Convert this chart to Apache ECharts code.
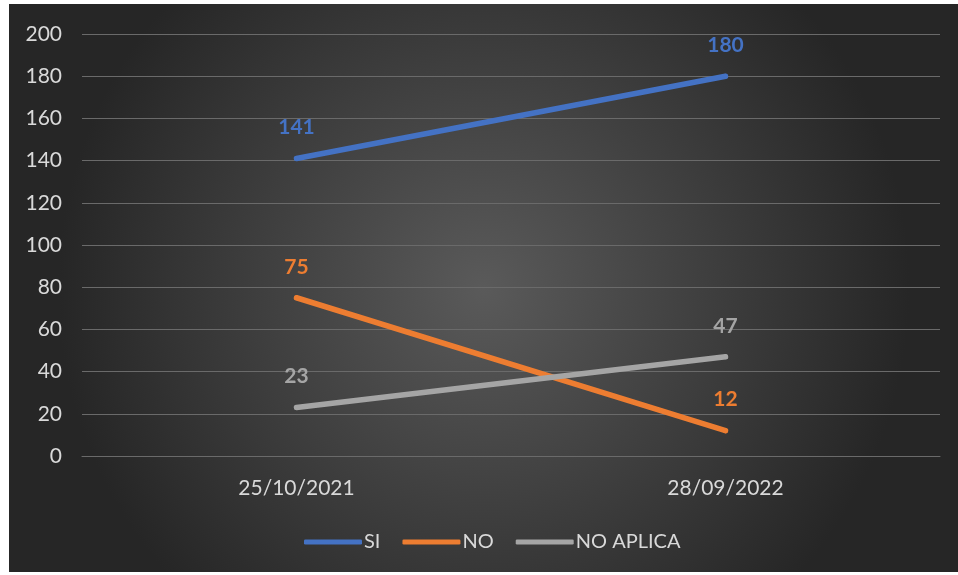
<!DOCTYPE html>
<html><head><meta charset="utf-8">
<script src="https://cdn.jsdelivr.net/npm/echarts@6/dist/echarts.min.js"></script>
<style>html,body{margin:0;padding:0;background:#fff;}#c{position:absolute;left:9px;top:4px;width:949px;height:568px;}</style>
</head><body><div id="c"></div>
<script>
const categories = ['25/10/2021', '28/09/2022'];
const siValues = [141, 180];
const noValues = [75, 12];
const noAplicaValues = [23, 47];
const yTicks = [0, 20, 40, 60, 80, 100, 120, 140, 160, 180, 200];

const chart = echarts.init(document.getElementById('c'));
const font = 'Lato, "Open Sans", sans-serif';
function mk(name, data, color) {
  return {
    name, type: 'line', data, symbol: 'circle', symbolSize: 5, showSymbol: true,
    lineStyle: { color, width: 5.5, cap: 'round' },
    itemStyle: { color },
    label: { show: true, position: 'top', distance: 18, color, fontSize: 21, fontWeight: 'bold', fontFamily: font },
    emphasis: { disabled: true }
  };
}
chart.setOption({
  animation: false,
  backgroundColor: { type: 'radial', x: 0.5, y: 0.5, r: 0.75, colorStops: [{ offset: 0, color: '#5a5a5a' }, { offset: 1, color: '#262626' }] },
  grid: { left: 73, right: 18, top: 30, bottom: 116 },
  legend: {
    data: ['SI', 'NO', 'NO APLICA'], bottom: 15, left: 290,
    icon: 'roundRect', itemWidth: 58, itemHeight: 5, itemGap: 22,
    textStyle: { color: '#d9d9d9', fontSize: 20, fontFamily: font, padding: [0, 0, 0, -3] }
  },
  xAxis: {
    type: 'category', data: categories, boundaryGap: true,
    axisLine: { lineStyle: { color: '#6a6a6a', width: 1 } },
    axisTick: { show: false },
    axisLabel: { color: '#d9d9d9', fontSize: 21, fontFamily: font, margin: 22 }
  },
  yAxis: {
    type: 'value', min: yTicks[0], max: yTicks[yTicks.length - 1], interval: 20,
    axisLine: { show: false }, axisTick: { show: false },
    splitLine: { lineStyle: { color: '#6a6a6a', width: 1 } },
    axisLabel: { color: '#d9d9d9', fontSize: 21, fontFamily: font, margin: 20 }
  },
  series: [mk('SI', siValues, '#4472C4'), mk('NO', noValues, '#ED7D31'), mk('NO APLICA', noAplicaValues, '#A5A5A5')]
});
</script></body></html>
